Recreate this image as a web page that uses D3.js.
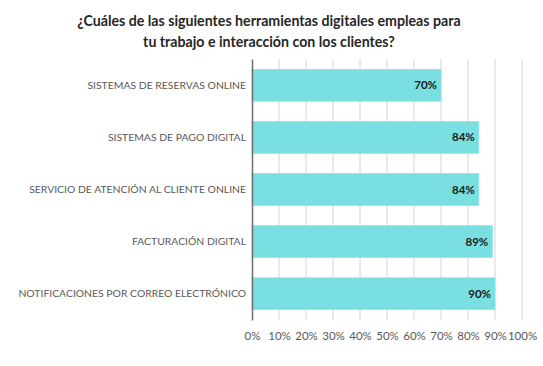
<!DOCTYPE html>
<html>
<head>
<meta charset="utf-8">
<script src="https://cdn.jsdelivr.net/npm/d3@7"></script>
<style>
  body { margin: 0; background: #fff; }
  text { font-family: Lato, "Open Sans", sans-serif; }
</style>
</head>
<body>
<div id="chart"><svg></svg></div>
<script>
var categories = ['SISTEMAS DE RESERVAS ONLINE', 'SISTEMAS DE PAGO DIGITAL',
                  'SERVICIO DE ATENCIÓN AL CLIENTE ONLINE', 'FACTURACIÓN DIGITAL',
                  'NOTIFICACIONES POR CORREO ELECTRÓNICO'];
var values = [70, 84, 84, 89, 90];
var ticks = [0, 10, 20, 30, 40, 50, 60, 70, 80, 90, 100];
var titleLines = ['¿Cuáles de las siguientes herramientas digitales empleas para',
                  'tu trabajo e interacción con los clientes?'];

var W = 543, H = 366;
var margin = {top: 59, right: 21, bottom: 46, left: 252};
var width = W - margin.left - margin.right,
    height = H - margin.top - margin.bottom;

var svg = d3.select('#chart').select('svg')
    .attr('width', W)
    .attr('height', H);

// title
svg.append('text')
    .attr('x', 269)
    .attr('y', 26)
    .attr('text-anchor', 'middle')
    .attr('font-size', 14.2)
    .attr('font-weight', 'bold')
    .attr('fill', '#262626')
  .selectAll('tspan')
    .data(titleLines)
  .enter().append('tspan')
    .attr('x', 269)
    .attr('dy', function(d, i) { return i ? 20.5 : 0; })
    .text(function(d) { return d; });

var g = svg.append('g')
    .attr('transform', 'translate(' + margin.left + ',' + margin.top + ')');

var x = d3.scaleLinear().domain([0, 100]).range([0, width]);
var y = d3.scaleBand().domain(categories).range([0, height]).paddingInner(0.39).paddingOuter(0.2);

// gridlines
g.selectAll('.grid')
    .data(ticks.slice(1))
  .enter().append('line')
    .attr('class', 'grid')
    .attr('x1', function(d) { return x(d); })
    .attr('x2', function(d) { return x(d); })
    .attr('y1', 0)
    .attr('y2', height)
    .attr('stroke', '#d4d4d4')
    .attr('stroke-width', 1);

// bars
g.selectAll('.bar')
    .data(values)
  .enter().append('rect')
    .attr('class', 'bar')
    .attr('x', x(0))
    .attr('y', function(d, i) { return y(categories[i]); })
    .attr('width', function(d) { return x(d) - x(0); })
    .attr('height', y.bandwidth())
    .attr('fill', '#7adfe0')
    .attr('stroke', '#8ae6e6')
    .attr('stroke-width', 0.8);

// value labels
g.selectAll('.val')
    .data(values)
  .enter().append('text')
    .attr('class', 'val')
    .attr('x', function(d) { return x(d) - 4; })
    .attr('y', function(d, i) { return y(categories[i]) + y.bandwidth() / 2; })
    .attr('dy', '0.35em')
    .attr('text-anchor', 'end')
    .attr('font-size', 11.5)
    .attr('font-weight', 'bold')
    .attr('fill', '#1a1a1a')
    .text(function(d) { return d + '%'; });

// y axis
var yAxis = g.append('g')
    .call(d3.axisLeft(y).tickSize(0).tickPadding(6));
yAxis.select('.domain').attr('stroke', '#6e6e6e').attr('stroke-width', 1.5);
yAxis.selectAll('text')
    .attr('font-size', 10.4)
    .attr('fill', '#595959')
    .style('font-family', 'Lato, sans-serif');

// x axis
var xAxis = g.append('g')
    .attr('transform', 'translate(0,' + height + ')')
    .call(d3.axisBottom(x).tickValues(ticks).tickSize(0).tickPadding(12)
      .tickFormat(function(d) { return d + '%'; }));
xAxis.select('.domain').remove();
xAxis.selectAll('text')
    .attr('font-size', 11.5)
    .attr('fill', '#595959')
    .style('font-family', 'Lato, sans-serif');
</script>
</body>
</html>
